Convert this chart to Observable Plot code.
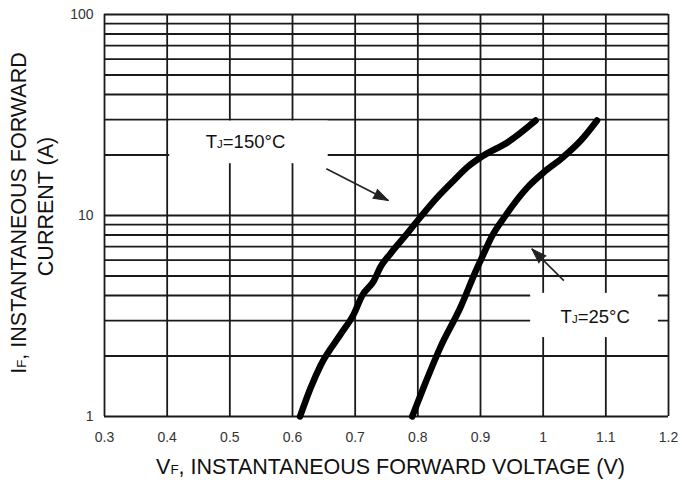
<!DOCTYPE html>
<html>
<head>
<meta charset="utf-8">
<script src="https://cdn.jsdelivr.net/npm/d3@7"></script>
<script src="https://cdn.jsdelivr.net/npm/@observablehq/plot@0.6"></script>
<style>
  html, body { margin: 0; padding: 0; background: #fff; }
  #chart { width: 682px; height: 483px; }
</style>
</head>
<body>
<div id="chart"></div>
<script>
// ---- data ----
const vf150 = [0.612, 0.629, 0.645, 0.677, 0.698, 0.711, 0.730, 0.740, 0.756, 0.778, 0.804, 0.831, 0.857, 0.879, 0.905, 0.943, 0.988];
const if150 = [1.0, 1.39, 1.80, 2.57, 3.24, 3.99, 4.74, 5.52, 6.44, 7.79, 9.8, 12.3, 14.9, 17.4, 19.9, 23.1, 29.7];
const vf25 = [0.791, 0.809, 0.836, 0.868, 0.895, 0.905, 0.916, 0.940, 0.975, 1.001, 1.030, 1.060, 1.086];
const if25 = [1.0, 1.39, 2.21, 3.49, 5.52, 6.44, 7.65, 10.0, 13.8, 16.4, 19.3, 23.6, 29.7];

const xTicks = [0.3, 0.4, 0.5, 0.6, 0.7, 0.8, 0.9, 1.0, 1.1, 1.2];
const yTicks = [1, 10, 100];
const yGrid = [1, 2, 3, 4, 5, 6, 7, 8, 9, 10, 20, 30, 40, 50, 60, 70, 80, 90, 100];

const xTitle = "V_F, INSTANTANEOUS FORWARD VOLTAGE (V)";
const yTitle1 = "I_F, INSTANTANEOUS FORWARD";
const yTitle2 = "CURRENT (A)";

// annotations (data coordinates)
const labels = ["T_J=150°C", "T_J=25°C"];
const labelV = [0.525, 1.083];
const labelI = [23.3, 3.14];
const boxV1 = [0.404, 0.980];
const boxV2 = [0.657, 1.184];
const boxI1 = [18.1, 2.47];
const boxI2 = [29.5, 4.1];
const arrowV1 = [0.654, 1.033];
const arrowI1 = [17.1, 4.74];
const arrowV2 = [0.753, 0.982];
const arrowI2 = [11.87, 6.82];
const arrowRot = [116.6, -45];

const c150 = vf150.map((v, i) => ({v, i: if150[i]}));
const c25 = vf25.map((v, i) => ({v, i: if25[i]}));
const ann = labels.map((t, k) => ({
  t, lv: labelV[k], li: labelI[k],
  bx1: boxV1[k], bx2: boxV2[k], by1: boxI1[k], by2: boxI2[k],
  ax1: arrowV1[k], ay1: arrowI1[k], ax2: arrowV2[k], ay2: arrowI2[k], rot: arrowRot[k]
}));

const font = "'Liberation Sans', Arial, Helvetica, sans-serif";
const gridColor = "#1a1a1a";

const chart = Plot.plot({
  width: 682,
  height: 483,
  marginLeft: 104,
  marginRight: 14,
  marginTop: 14,
  marginBottom: 67,
  style: {fontFamily: font, background: "#fff", overflow: "visible"},
  x: {domain: [0.3, 1.2]},
  y: {type: "log", domain: [1, 100]},
  marks: [
    Plot.ruleX(xTicks, {stroke: gridColor, strokeWidth: 1.8}),
    Plot.ruleY(yGrid, {stroke: gridColor, strokeWidth: 1.8}),
    Plot.rect(ann, {x1: "bx1", x2: "bx2", y1: "by1", y2: "by2", fill: "#fff"}),
    Plot.link(ann, {x1: "ax1", y1: "ay1", x2: "ax2", y2: "ay2", stroke: "#222", strokeWidth: 1.6}),
    Plot.vector(ann, {x: "ax2", y: "ay2", rotate: "rot", length: 15, r: 5, shape: "spike", anchor: "end", fill: "#222", stroke: "#222", strokeWidth: 1}),
    Plot.text(ann, {x: "lv", y: "li", text: "t", fontSize: 18.5, fill: "#111", textAnchor: "middle", lineAnchor: "middle"}),
    Plot.line(c150, {x: "v", y: "i", curve: "monotone-x", stroke: "#000", strokeWidth: 6.5, strokeLinecap: "round", strokeLinejoin: "round"}),
    Plot.line(c25, {x: "v", y: "i", curve: "monotone-x", stroke: "#000", strokeWidth: 6.5, strokeLinecap: "round", strokeLinejoin: "round"}),
    Plot.axisX(xTicks, {tickSize: 0, tickPadding: 16, fontSize: 14, fill: "#333", label: null,
      tickFormat: d => String(+d.toFixed(1))}),
    Plot.axisY(yTicks, {tickSize: 0, tickPadding: 11, fontSize: 14, fill: "#333", label: null,
      tickFormat: d => String(d)}),
    Plot.text([xTitle], {frameAnchor: "bottom", text: d => d, textAnchor: "middle", dx: 4, dy: 51, fontSize: 21.5, fill: "#111", lineAnchor: "middle"}),
    Plot.text([yTitle1], {frameAnchor: "left", text: d => d, textAnchor: "middle", rotate: -90, dx: -85, dy: -2.5, fontSize: 21.5, fill: "#111", lineAnchor: "middle"}),
    Plot.text([yTitle2], {frameAnchor: "left", text: d => d, textAnchor: "middle", rotate: -90, dx: -58, dy: -9, fontSize: 21.5, fill: "#111", lineAnchor: "middle"})
  ]
});

// render "_X" as a small subscript letter
d3.select(chart).selectAll("text").each(function() {
  const el = d3.select(this);
  if (el.selectAll("tspan").size() > 0) return;
  const s = el.text();
  const k = s.indexOf("_");
  if (k < 0) return;
  el.text(null);
  el.append("tspan").text(s.slice(0, k));
  el.append("tspan").attr("font-size", "0.62em").text(s.slice(k + 1, k + 2));
  el.append("tspan").text(s.slice(k + 2));
});

document.getElementById("chart").appendChild(chart);
</script>
</body>
</html>
